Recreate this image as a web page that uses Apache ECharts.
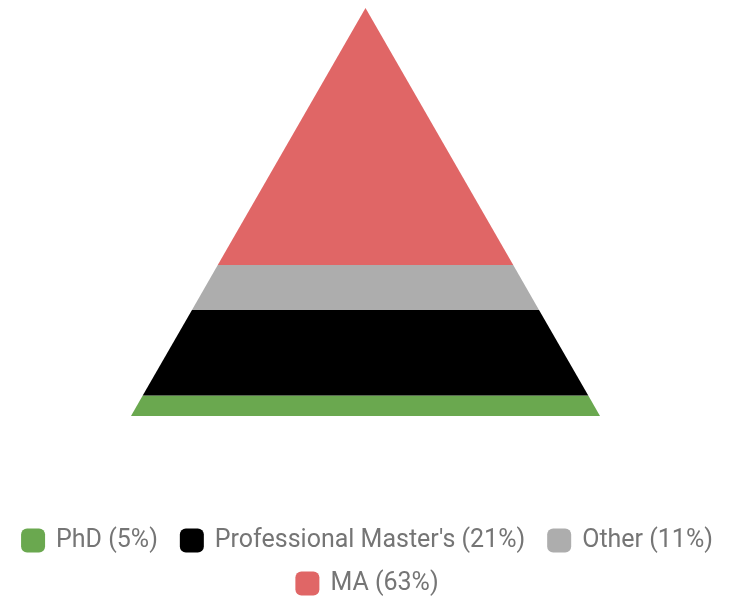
<!DOCTYPE html>
<html>
<head>
<meta charset="utf-8">
<script src="https://cdn.jsdelivr.net/npm/echarts@6/dist/echarts.min.js"></script>
<style>html,body{margin:0;padding:0;background:#fff;}#c{width:734px;height:603px;}</style>
</head>
<body>
<div id="c"></div>
<script>
// Bottom-to-top order (same as legend order)
var categories = ["PhD", "Professional Master's", "Other", "MA"];
var values = [5, 21, 11, 63];
var colors = ["#6aa84f", "#000000", "#adadad", "#e06666"];

var total = values.reduce(function (a, b) { return a + b; }, 0);
var labels = categories.map(function (c, i) { return c + " (" + values[i] + "%)"; });

var series = [];
var cum = 0;
categories.forEach(function (c, i) {
  var start = cum, end = cum + values[i];
  cum = end;
  series.push({
    type: 'custom',
    name: labels[i],
    coordinateSystem: 'cartesian2d',
    itemStyle: { color: colors[i] },
    data: [[start, end]],
    renderItem: function (params, api) {
      var s = api.value(0), e = api.value(1);
      var ws = 1 - s / total, we = 1 - e / total;
      var pts = [
        api.coord([-ws, s]), api.coord([ws, s]),
        api.coord([we, e]), api.coord([-we, e])
      ];
      return {
        type: 'polygon',
        shape: { points: pts },
        style: { fill: colors[i] }
      };
    }
  });
});

var legendBase = {
  left: 'center',
  padding: 0,
  itemWidth: 24,
  itemHeight: 24,
  itemGap: 22,
  icon: 'roundRect',
  itemStyle: { borderRadius: 3 },
  textStyle: { fontFamily: 'Roboto', fontSize: 25, color: '#757575', padding: [0, 0, 0, 6] }
};

var chart = echarts.init(document.getElementById('c'));
chart.setOption({
  animation: false,
  grid: { left: 131, right: 134, top: 8, bottom: 187 },
  xAxis: { type: 'value', min: -1, max: 1, show: false },
  yAxis: { type: 'value', min: 0, max: total, show: false },
  legend: [
    Object.assign({}, legendBase, { data: labels.slice(0, 3), top: 528 }),
    Object.assign({}, legendBase, { data: labels.slice(3), top: 571 })
  ],
  series: series
});
</script>
</body>
</html>
